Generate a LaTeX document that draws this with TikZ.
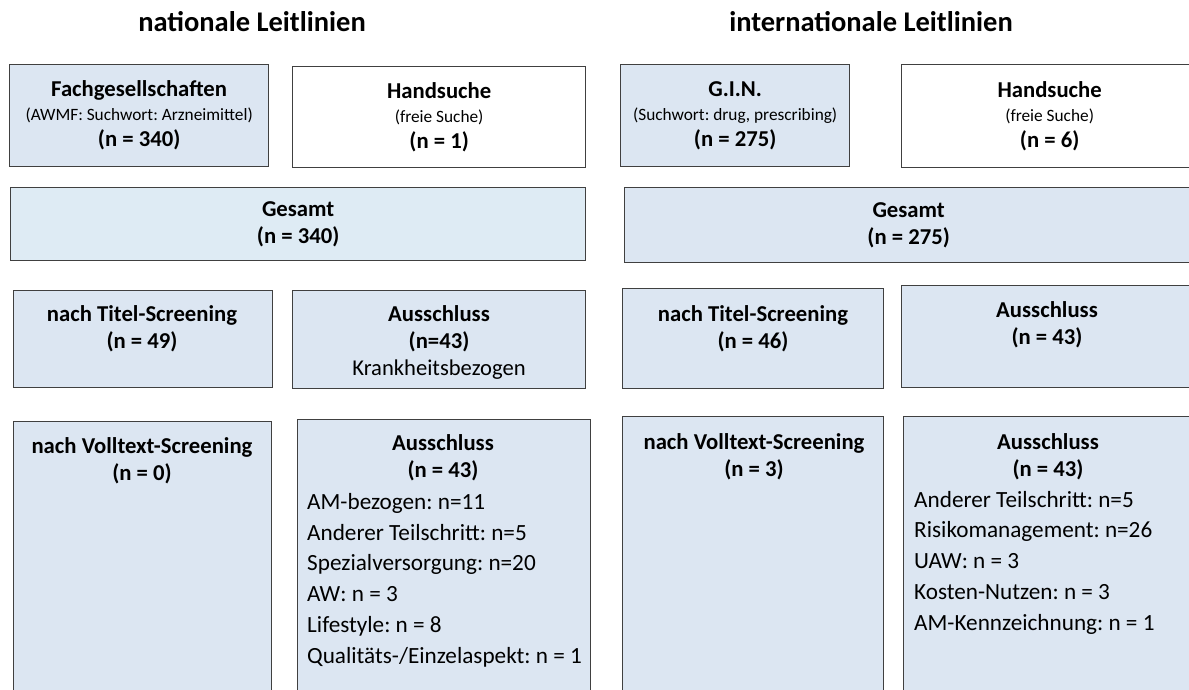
\documentclass[tikz,border=0pt]{standalone}
\usepackage{fontspec}
\setmainfont{Carlito}
\usetikzlibrary{positioning}
\frenchspacing

\definecolor{boxfill}{RGB}{220,230,242}
\definecolor{sumfill}{RGB}{222,235,244}
\definecolor{boxline}{RGB}{64,64,64}

\newcommand{\hdfont}{\fontsize{22.7}{27}\selectfont\bfseries}
\newcommand{\smfont}{\fontsize{17.3}{20}\selectfont\mdseries}
\newcommand{\lsfont}{\fontsize{23.2}{30.7}\selectfont}

\tikzset{
  x=1pt, y=-1pt,
  box/.style={draw=boxline, line width=1.3pt, fill=boxfill, anchor=north west, inner sep=0pt, align=center, font=\hdfont},
  whitebox/.style={box, fill=white},
  sumbox/.style={box, fill=sumfill},
  hd/.style={font=\hdfont, align=center, inner sep=0pt, anchor=base},
  ls/.style={font=\lsfont, align=left, inner sep=0pt, anchor=base west},
  heading/.style={font=\fontsize{28.5}{32}\selectfont\bfseries, inner sep=0pt, anchor=base},
}

\begin{document}
\begin{tikzpicture}
\useasboundingbox (0,0) rectangle (1189,690);

% Ueberschriften
\node (natl) [heading] at (252,32) {nationale Leitlinien};
\node (intl) [heading] at (871,32) {internationale Leitlinien};

% nationale Leitlinien
\node (nfach) [box, minimum width=259pt, minimum height=102pt] at (9,64)
  {Fachgesellschaften\\[-3pt]{\smfont (AWMF: Suchwort: Arzneimittel)}\\[-1pt](n = 340)};
\node (nhand) [whitebox, minimum width=293pt, minimum height=101pt] at (292,66)
  {Handsuche\\[-3pt]{\smfont (freie Suche)}\\[-1pt](n = 1)};
\node (nsum) [sumbox, minimum width=575pt, minimum height=73pt] at (10,187)
  {Gesamt\\(n = 340)};
\node (ntitel) [box, minimum width=259pt, minimum height=97pt] at (13,290) {};
\node (naus) [box, minimum width=293pt, minimum height=98pt] at (292,290) {};
\node (nvoll) [box, minimum width=258pt, minimum height=300pt] at (13,421) {};
\node (nausv) [box, minimum width=293pt, minimum height=300pt] at (297,419) {};

\node (ntitelhd) [hd] at (142,348) {nach Titel-Screening\\(n = 49)};
\node (naushd) [hd] at (439,375) {Ausschluss\\(n=43)\\{\mdseries\fontsize{22.6}{27}\selectfont Krankheitsbezogen}};
\node (nvollhd) [hd] at (142,480) {nach Volltext-Screening\\(n = 0)};
\node (nausvhd) [hd] at (443,477) {Ausschluss\\(n = 43)};
\node (nausvls) [ls] at (307,663) {AM-bezogen: n=11\\Anderer Teilschritt: n=5\\Spezialversorgung: n=20\\AW: n = 3\\Lifestyle: n = 8\\Qualit\"ats-/Einzelaspekt: n = 1};

% internationale Leitlinien
\node (igin) [box, minimum width=229pt, minimum height=102pt] at (620,64)
  {G.I.N.\\[-3pt]{\smfont (Suchwort: drug, prescribing)}\\[-1pt](n = 275)};
\node (ihand) [whitebox, minimum width=296pt, minimum height=103pt] at (901,64)
  {Handsuche\\[-3pt]{\smfont (freie Suche)}\\[-1pt](n = 6)};
\node (isum) [box, minimum width=568pt, minimum height=75pt] at (624,187)
  {Gesamt\\(n = 275)};
\node (ititel) [box, minimum width=261pt, minimum height=100pt] at (622,288) {};
\node (iaus) [box, minimum width=294pt, minimum height=102pt] at (901,285) {};
\node (ivoll) [box, minimum width=261pt, minimum height=300pt] at (622,416) {};
\node (iausv) [box, minimum width=290pt, minimum height=300pt] at (903,416) {};

\node (ititelhd) [hd] at (753,348) {nach Titel-Screening\\(n = 46)};
\node (iaushd) [hd] at (1047,344) {Ausschluss\\(n = 43)};
\node (ivollhd) [hd] at (754,476) {nach Volltext-Screening\\(n = 3)};
\node (iausvhd) [hd] at (1048,476) {Ausschluss\\(n = 43)};
\node (iausvls) [ls] at (914,630) {Anderer Teilschritt: n=5\\Risikomanagement: n=26\\UAW: n = 3\\Kosten-Nutzen: n = 3\\AM-Kennzeichnung: n = 1};
\end{tikzpicture}
\end{document}
